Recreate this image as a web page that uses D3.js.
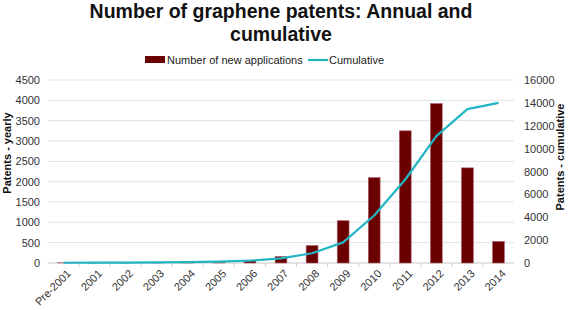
<!DOCTYPE html>
<html>
<head>
<meta charset="utf-8">
<script src="https://cdn.jsdelivr.net/npm/d3@7"></script>
<style>
  body { margin: 0; background: #fff; }
  text { font-family: "Liberation Sans", Arial, sans-serif; }
</style>
</head>
<body>
<svg id="chart"></svg>
<script>
// categories and values
var years = ["Pre-2001", "2001", "2002", "2003", "2004", "2005", "2006", "2007",
  "2008", "2009", "2010", "2011", "2012", "2013", "2014"];
var newApps = [5, 5, 5, 10, 10, 15, 60, 160, 430, 1040, 2100, 3250, 3920, 2340, 530];
var cumulative = [20, 30, 40, 60, 80, 120, 200, 400, 850, 1800, 4150, 7300, 11100, 13450, 14000];
var leftTicks = [0, 500, 1000, 1500, 2000, 2500, 3000, 3500, 4000, 4500];
var rightTicks = [0, 2000, 4000, 6000, 8000, 10000, 12000, 14000, 16000];

var width = 569, height = 310;
var margin = { top: 80, right: 55, bottom: 47, left: 48 };
var w = width - margin.left - margin.right;
var h = height - margin.top - margin.bottom;

var svg = d3.select("#chart")
  .attr("width", width)
  .attr("height", height);

// title
var title = svg.append("text")
  .attr("text-anchor", "middle")
  .style("font-size", "19.5px")
  .style("font-weight", "bold")
  .attr("fill", "#111");
title.append("tspan").attr("x", 281).attr("y", 18).text("Number of graphene patents: Annual and");
title.append("tspan").attr("x", 281).attr("y", 41).text("cumulative");

var g = svg.append("g")
  .attr("transform", "translate(" + margin.left + "," + margin.top + ")");

var x = d3.scaleBand()
  .domain(years)
  .range([0, w])
  .paddingInner(0.62)
  .paddingOuter(0.31);

var y = d3.scaleLinear().domain([0, 4500]).range([h, 0]);
var y2 = d3.scaleLinear().domain([0, 16000]).range([h, 0]);

// gridlines
g.append("g")
  .selectAll("line")
  .data(leftTicks)
  .enter()
  .append("line")
  .attr("x1", 0)
  .attr("x2", w)
  .attr("y1", function (d) { return y(d); })
  .attr("y2", function (d) { return y(d); })
  .attr("stroke", function (d) { return d === 0 ? "#c8c8c8" : "#dfe3e3"; })
  .attr("stroke-width", 1);

// left axis
var leftAxis = g.append("g")
  .call(d3.axisLeft(y).tickValues(leftTicks).tickFormat(d3.format("d")).tickSize(0).tickPadding(8));
leftAxis.select(".domain").remove();
leftAxis.selectAll("text")
  .style("font-size", "11px")
  .attr("fill", "#333");

// right axis
var rightAxis = g.append("g")
  .attr("transform", "translate(" + w + ",0)")
  .call(d3.axisRight(y2).tickValues(rightTicks).tickFormat(d3.format("d")).tickSize(0).tickPadding(10));
rightAxis.select(".domain").remove();
rightAxis.selectAll("text")
  .style("font-size", "11px")
  .attr("fill", "#333");

// bottom axis: tick marks at band boundaries
var step = x.step();
g.append("g")
  .selectAll("line")
  .data(years.slice(1))
  .enter()
  .append("line")
  .attr("x1", function (d) { return x(d) + x.bandwidth() / 2 - step / 2; })
  .attr("x2", function (d) { return x(d) + x.bandwidth() / 2 - step / 2; })
  .attr("y1", h)
  .attr("y2", h + 4)
  .attr("stroke", "#d0d0d0");

var bottomAxis = g.append("g")
  .attr("transform", "translate(0," + h + ")")
  .call(d3.axisBottom(x).tickSize(0).tickPadding(6));
bottomAxis.select(".domain").remove();
bottomAxis.selectAll("text")
  .style("font-size", "11px")
  .attr("fill", "#333")
  .style("text-anchor", "end")
  .attr("dx", "-0.2em")
  .attr("dy", "0.7em")
  .attr("transform", "rotate(-45)");

// bars
g.selectAll(".bar")
  .data(years)
  .enter()
  .append("rect")
  .attr("class", "bar")
  .attr("x", function (d) { return x(d); })
  .attr("y", function (d, i) { return y(newApps[i]); })
  .attr("width", x.bandwidth())
  .attr("height", function (d, i) { return h - y(newApps[i]); })
  .attr("fill", "#6b0000")
  .attr("stroke", "#a8606a")
  .attr("stroke-width", 0.6);

// cumulative line
var line = d3.line()
  .x(function (d, i) { return x(years[i]) + x.bandwidth() / 2; })
  .y(function (d) { return y2(d); });

g.append("path")
  .datum(cumulative)
  .attr("d", line)
  .attr("fill", "none")
  .attr("stroke", "#22b5c4")
  .attr("stroke-width", 2.2)
  .attr("stroke-linejoin", "round");

// axis titles
svg.append("text")
  .attr("transform", "translate(11,153)rotate(-90)")
  .attr("text-anchor", "middle")
  .style("font-size", "11px")
  .style("font-weight", "bold")
  .attr("fill", "#111")
  .text("Patents - yearly");

svg.append("text")
  .attr("transform", "translate(564,157)rotate(-90)")
  .attr("text-anchor", "middle")
  .style("font-size", "11px")
  .style("font-weight", "bold")
  .attr("fill", "#111")
  .text("Patents - cumulative");

// legend
var legend = svg.append("g").attr("transform", "translate(0,60)");
legend.append("rect")
  .attr("x", 145).attr("y", -4)
  .attr("width", 20).attr("height", 7)
  .attr("fill", "#6b0000");
legend.append("text")
  .attr("x", 167).attr("y", 4)
  .style("font-size", "11px")
  .attr("fill", "#222")
  .text("Number of new applications");
legend.append("line")
  .attr("x1", 308).attr("x2", 328)
  .attr("y1", 0).attr("y2", 0)
  .attr("stroke", "#22b5c4")
  .attr("stroke-width", 2.2);
legend.append("text")
  .attr("x", 329).attr("y", 4)
  .style("font-size", "11px")
  .attr("fill", "#222")
  .text("Cumulative");
</script>
</body>
</html>
